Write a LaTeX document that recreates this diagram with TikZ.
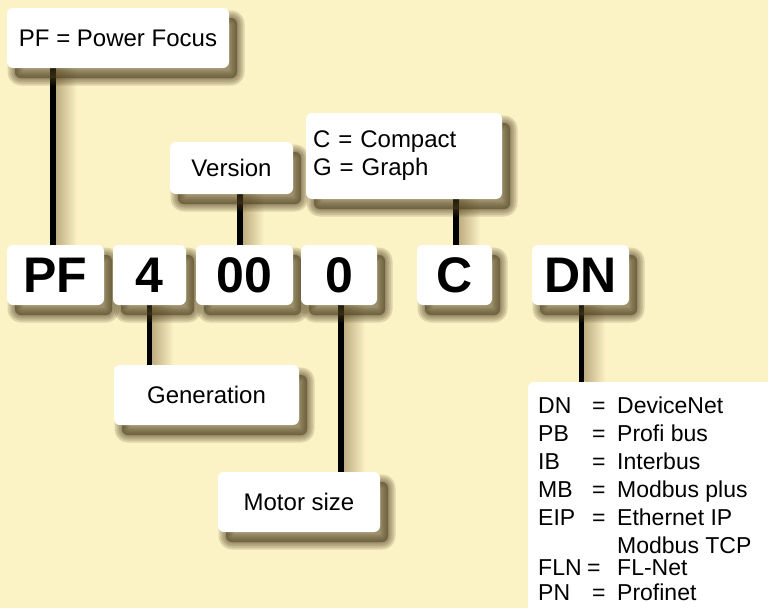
\documentclass[tikz,border=0pt]{standalone}
\usepackage{fontspec}
\setmainfont{Liberation Sans}
\usetikzlibrary{backgrounds,calc}
\definecolor{bg}{HTML}{FBF2C6}
\definecolor{lshd}{HTML}{BFAE80}
\definecolor{shd}{HTML}{4A3C1C}
\tikzset{
  sh/.style={preaction={draw=shd, fill=shd, line width=#1, line join=round, opacity=0.17,
     transform canvas={shift={(8,10)}}}},
  card/.style={fill=white, rounded corners=6pt, inner sep=0pt, anchor=center,
    sh=15pt, sh=11pt, sh=7pt, sh=3pt},
  big/.style={card, font=\fontsize{50}{50}\selectfont\bfseries, minimum height=60pt},
  lbl/.style={card, font=\fontsize{24}{28}\selectfont},
  conn/.style={line width=5.5pt, black},
}
\newcommand{\lshadow}[2]{% #1 top coordinate, #2 bottom coordinate
  \shade[left color=lshd, right color=bg] ($(#1)+(3,0)$) rectangle ($(#2)+(24,0)$);}
\begin{document}
\begin{tikzpicture}[x=1pt,y=-1pt]
\useasboundingbox (0,0) rectangle (768,608);
% big code boxes
\node[big, minimum width=97pt] (pf) at (55.5,275) {PF};
\node[big, minimum width=73pt] (g4) at (149.5,275) {4};
\node[big, minimum width=97pt] (v00) at (244.5,275) {00};
\node[big, minimum width=76pt] (m0) at (339,275) {0};
\node[big, minimum width=75pt] (cc) at (454.5,275) {C};
\node[big, minimum width=97pt] (dn) at (580.5,275) {DN};
% labels
\node[lbl, minimum width=222pt, minimum height=60pt] (pfl) at (118,38) {PF = Power Focus};
\node[lbl, minimum width=123pt, minimum height=52pt] (verl) at (231.5,168) {Version};
\node[lbl, minimum width=196pt, minimum height=86pt, align=left, text width=182pt] (cgl) at (404,156) {C = Compact\\G = Graph};
\node[lbl, minimum width=185pt, minimum height=60pt] (genl) at (206.5,395) {Generation};
\node[lbl, minimum width=162pt, minimum height=60pt] (motl) at (299,502) {Motor size};
\node[card, minimum width=250pt, minimum height=240pt] (busl) at (653,502) {};
% legend text
\begin{scope}[font=\fontsize{23}{28}\selectfont]
\foreach \a/\b/\y in {DN/DeviceNet/413, PB/Profi bus/441, IB/Interbus/469, MB/Modbus plus/497, EIP/Ethernet IP/525, PN/Profinet/600}{
  \node[anchor=base west, inner sep=0pt] at (538,\y) {\a};
  \node[anchor=base west, inner sep=0pt] at (592,\y) {=};
  \node[anchor=base west, inner sep=0pt] at (617,\y) {\b};
}
\node[anchor=base west, inner sep=0pt] at (617,553) {Modbus TCP};
\node[anchor=base west, inner sep=0pt] at (538,575) {FLN};
\node[anchor=base west, inner sep=0pt] at (587,575) {=};
\node[anchor=base west, inner sep=0pt] at (617,575) {FL-Net};
\end{scope}
% connectors
\begin{scope}[on background layer]
\fill[bg] (0,0) rectangle (768,608);
\coordinate (a1) at ($(pfl.south -| pf.north)+(-2.5,0)$);
\coordinate (a2) at ($(pf.north)+(-2.5,0)$);
\lshadow{a1}{a2}
\draw[conn] (a1) -- (a2);
\coordinate (b1) at ($(verl.south)+(8.5,0)$);
\coordinate (b2) at (b1 |- v00.north);
\lshadow{b1}{b2}
\draw[conn] (b1) -- (b2);
\coordinate (c1) at ($(cgl.south -| cc.north)+(1.5,0)$);
\coordinate (c2) at ($(cc.north)+(1.5,0)$);
\lshadow{c1}{c2}
\draw[conn] (c1) -- (c2);
\coordinate (d1) at (g4.south);
\coordinate (d2) at (g4.south |- genl.north);
\lshadow{d1}{d2}
\draw[conn] (d1) -- (d2);
\coordinate (e1) at ($(m0.south)+(2,0)$);
\coordinate (e2) at (e1 |- motl.north);
\lshadow{e1}{e2}
\draw[conn] (e1) -- (e2);
\coordinate (f1) at ($(dn.south)+(1,0)$);
\coordinate (f2) at (f1 |- busl.north);
\lshadow{f1}{f2}
\draw[conn] (f1) -- (f2);
\end{scope}
\end{tikzpicture}
\end{document}
